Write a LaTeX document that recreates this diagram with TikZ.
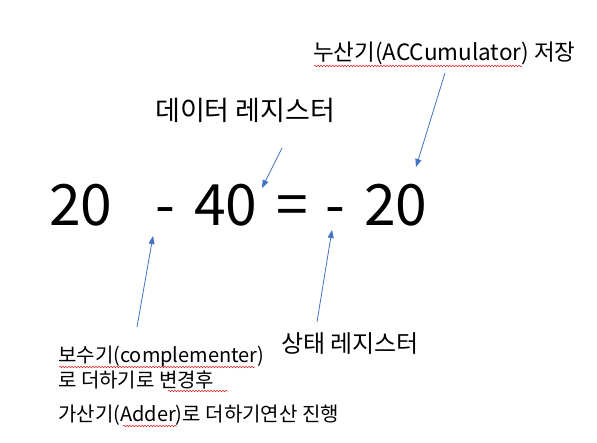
\documentclass[tikz,border=0pt]{standalone}
\usepackage{fontspec}
\setmainfont{Noto Sans CJK KR}
\usetikzlibrary{arrows.meta,decorations.pathmorphing}
\definecolor{arrowblue}{HTML}{4472C4}
\definecolor{spellred}{HTML}{E02020}
\tikzset{
  lbl/.style={inner sep=0pt, anchor=west, font=\fontsize{20}{24}\selectfont},
  big/.style={inner sep=0pt, anchor=base west, font=\fontsize{57}{60}\selectfont},
  ptr/.style={draw=arrowblue, line width=0.8pt, -{Triangle[length=8pt,width=6pt]}},
  squiggle/.style={draw=spellred, line width=0.5pt, decorate, decoration={snake, amplitude=0.8pt, segment length=3pt}}
}
\begin{document}
\begin{tikzpicture}[x=1pt,y=-1pt]
\useasboundingbox[fill=white] (0,0) rectangle (597,442);
% labels
\node[lbl, font=\fontsize{22.5}{27}\selectfont] (acc) at (313,53) {누산기(ACCumulator) 저장};
\node[lbl, font=\fontsize{27}{31}\selectfont] (data) at (155,110) {데이터 레지스터};
\node[lbl, font=\fontsize{24}{28}\selectfont] (stat) at (281,344) {상태 레지스터};
\node[lbl] (comp1) at (58,357) {보수기(complementer)};
\node[lbl] (comp2) at (58,380) {로 더하기로 변경후};
\node[lbl] (adder) at (58,415) {가산기(Adder)로 더하기연산 진행};
% equation
\node[big] (n1) at (49,225) {20};
\node[big] (m1) at (155,225) {-};
\node[big] (n2) at (194,225) {40};
\node[big] (eq) at (276,225) {=};
\node[big] (m2) at (325,225) {-};
\node[big] (n3) at (364,225) {20};
% arrow ends
\coordinate (a1s) at (445,73);  \coordinate (a1e) at (416,167);
\coordinate (a2s) at (282,148); \coordinate (a2e) at (262,188);
\coordinate (a3s) at (137,327); \coordinate (a3e) at (153,236);
\coordinate (a4s) at (317,322); \coordinate (a4e) at (332,230);
\draw[ptr] (a1s) -- (a1e);
\draw[ptr] (a2s) -- (a2e);
\draw[ptr] (a3s) -- (a3e);
\draw[ptr] (a4s) -- (a4e);
% spell-check underlines
\coordinate (s1a) at (314,66); \coordinate (s1b) at (522,66);
\coordinate (s2a) at (59,367); \coordinate (s2b) at (255,367);
\coordinate (s3a) at (168,391); \coordinate (s3b) at (228,391);
\coordinate (s4a) at (123,426); \coordinate (s4b) at (177,426);
\draw[squiggle] (s1a) -- (s1b);
\draw[squiggle] (s2a) -- (s2b);
\draw[squiggle] (s3a) -- (s3b);
\draw[squiggle] (s4a) -- (s4b);
\end{tikzpicture}
\end{document}
